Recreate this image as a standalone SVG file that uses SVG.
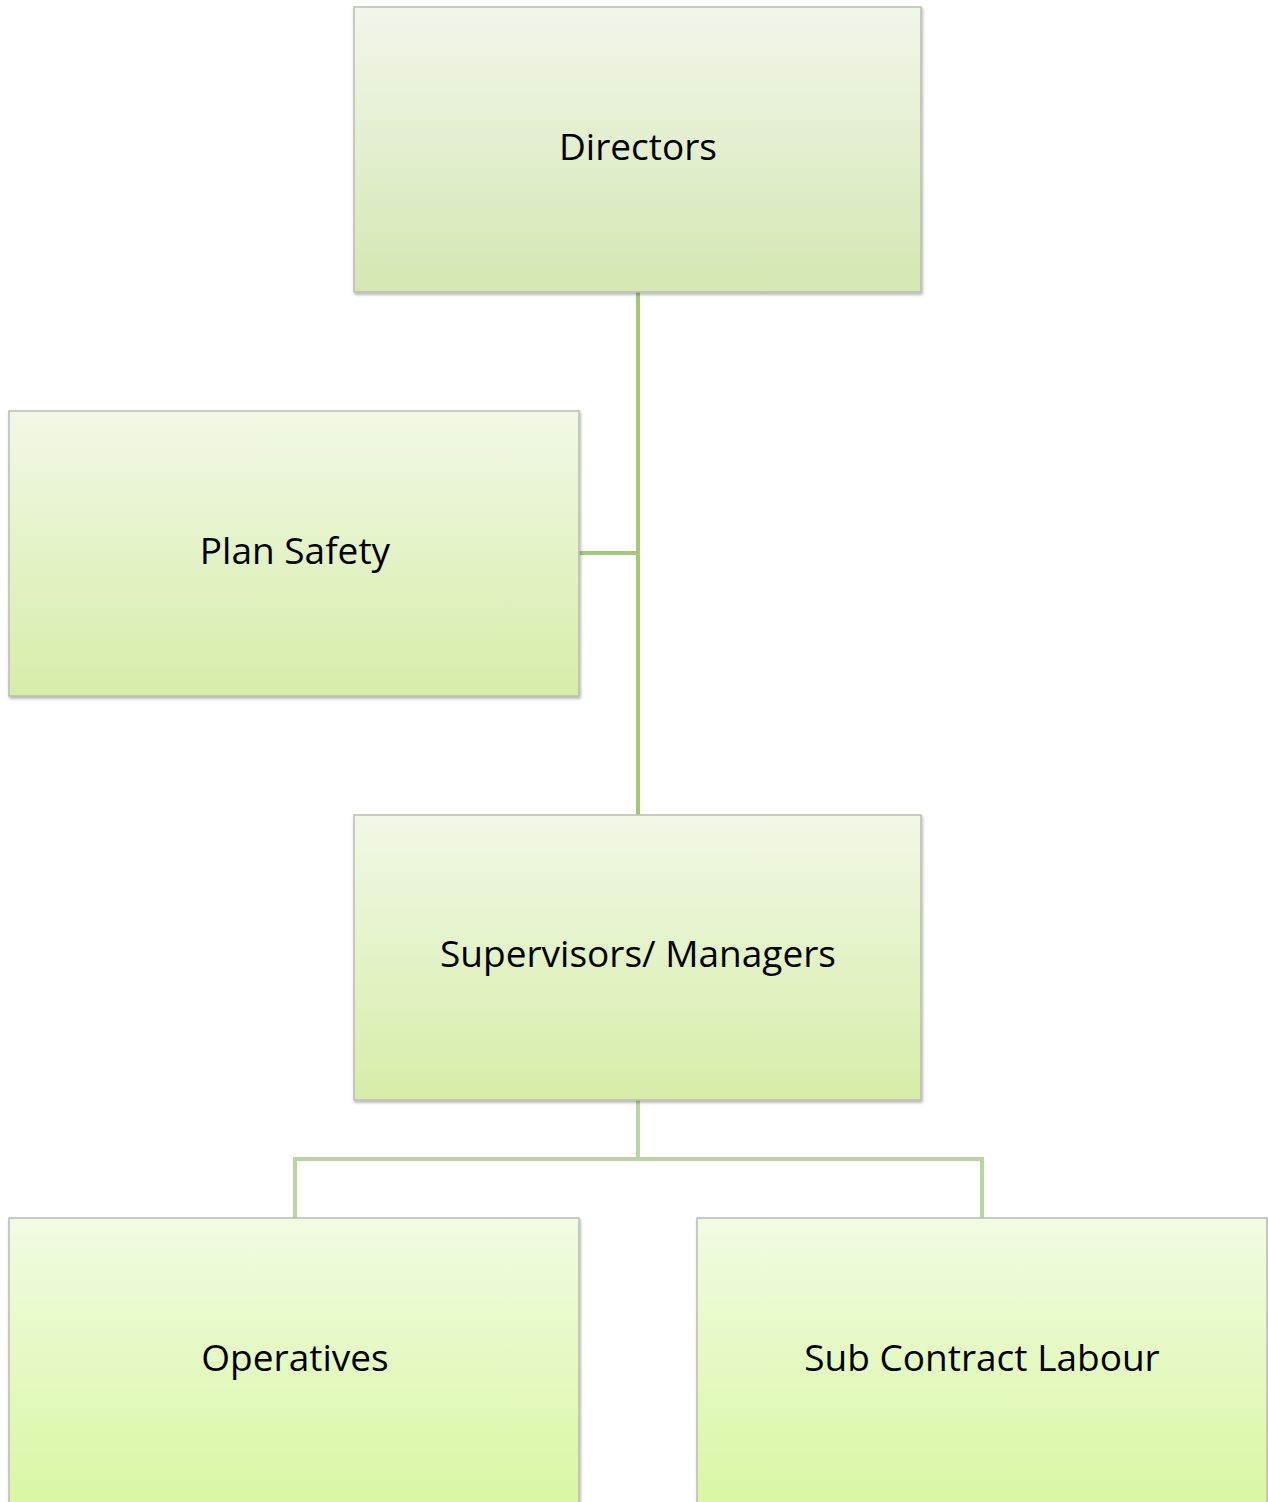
<svg xmlns="http://www.w3.org/2000/svg" width="1268" height="1502" viewBox="0 0 1268 1502">
<defs>
<linearGradient id="g1" x1="0" y1="0" x2="0" y2="1"><stop offset="0" stop-color="#f1f6ea"/><stop offset="1" stop-color="#d4e7b2"/></linearGradient>
<linearGradient id="g2" x1="0" y1="0" x2="0" y2="1"><stop offset="0" stop-color="#f1f8e6"/><stop offset="1" stop-color="#d6eda8"/></linearGradient>
<linearGradient id="g3" x1="0" y1="0" x2="0" y2="1"><stop offset="0" stop-color="#f1fbe2"/><stop offset="1" stop-color="#d8f7a2"/></linearGradient>
<filter id="sh" x="-5%" y="-5%" width="110%" height="110%"><feDropShadow dx="1" dy="2" stdDeviation="1.5" flood-color="#000" flood-opacity="0.3"/></filter>
</defs>
<style>
.box{stroke:#b9bdb2;stroke-width:1.5;filter:url(#sh)}
.lbl{font-family:"Open Sans","Noto Sans",sans-serif;font-size:37px;fill:#000;text-anchor:middle;dominant-baseline:central}
.c1{stroke:#a5c878;stroke-width:4;fill:none}
.c2{stroke:#bcd5a0;stroke-width:4;fill:none}
</style>
<rect width="1268" height="1502" fill="#fff"/>
<g id="connectors">
<path class="c1" d="M638 292V815"/>
<path class="c1" d="M579 553H638"/>
<path class="c2" d="M638 1100V1159H295V1218M638 1159H982V1218"/>
</g>
<g id="directors"><rect class="box" x="354" y="7" width="567" height="285" fill="url(#g1)"/><text class="lbl" x="638" y="145">Directors</text></g>
<g id="plan-safety"><rect class="box" x="9" y="411" width="570" height="285" fill="url(#g2)"/><text class="lbl" x="295" y="549">Plan Safety</text></g>
<g id="supervisors"><rect class="box" x="354" y="815" width="567" height="285" fill="url(#g2)"/><text class="lbl" x="638" y="952">Supervisors/ Managers</text></g>
<g id="operatives"><rect class="box" x="9" y="1218" width="570" height="290" fill="url(#g3)"/><text class="lbl" x="295" y="1356">Operatives</text></g>
<g id="subcontract"><rect class="box" x="697" y="1218" width="570" height="290" fill="url(#g3)"/><text class="lbl" x="982" y="1356">Sub Contract Labour</text></g>
</svg>
